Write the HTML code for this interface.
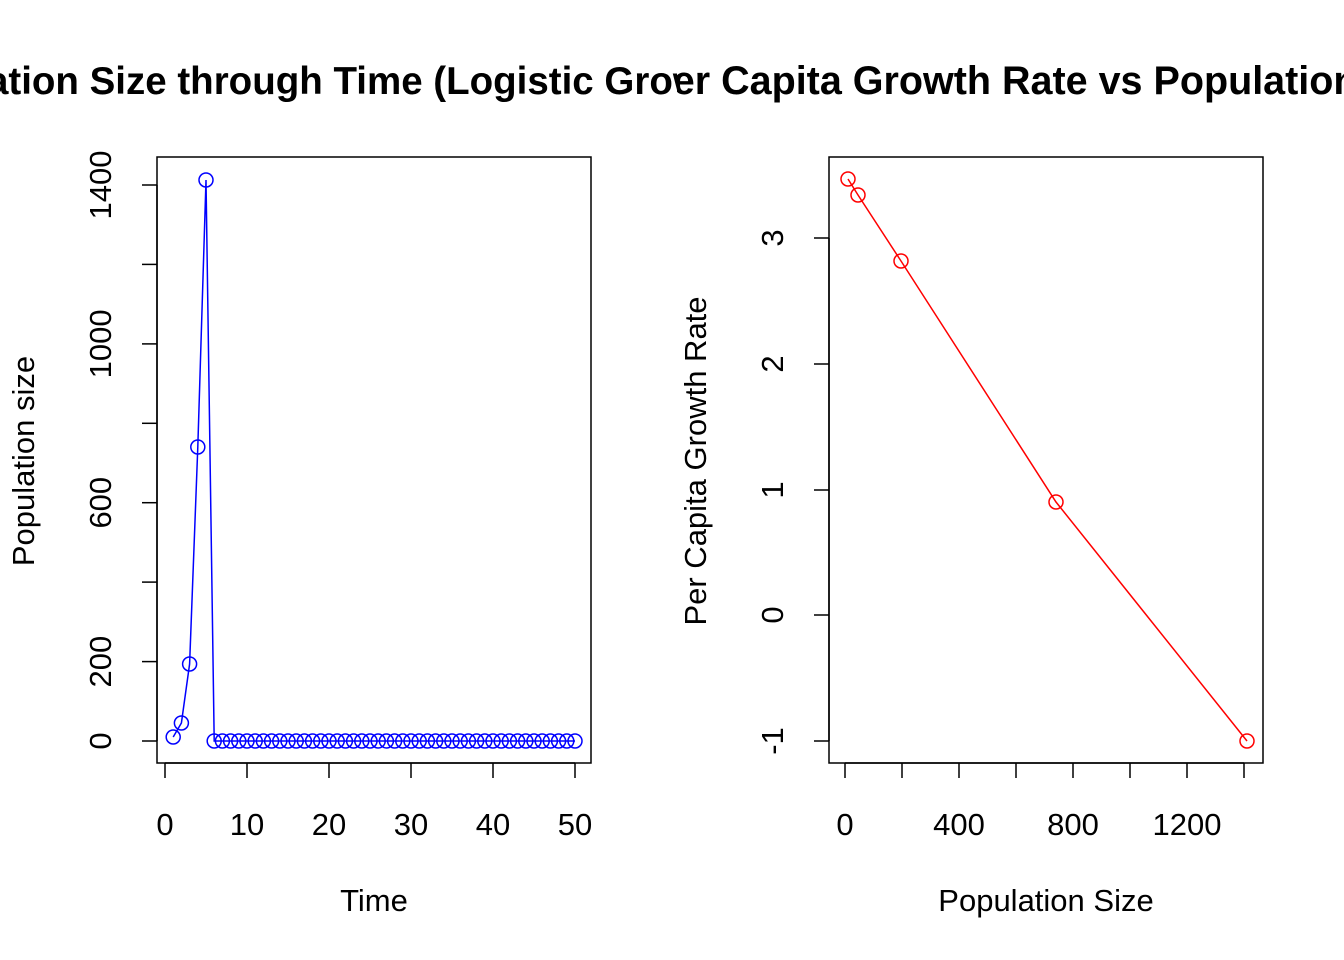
<!DOCTYPE html>
<html><head><meta charset="utf-8"><style>body{margin:0;background:#fff}svg{display:block}</style></head>
<body>
<svg width="1344" height="960" xmlns="http://www.w3.org/2000/svg" font-family="Liberation Sans, Arial, sans-serif">
<defs>
<clipPath id="cl"><rect x="0" y="0" width="677" height="960"/></clipPath>
<clipPath id="cr"><rect x="677" y="0" width="667" height="960"/></clipPath>
</defs>
<rect width="1344" height="960" fill="#fff"/>
<g font-weight="bold" text-anchor="middle">
<text x="316" y="94" font-size="38.5" clip-path="url(#cl)">Population Size through Time (Logistic Growth)</text>
<text x="1047" y="94" font-size="39.5" clip-path="url(#cr)">Per Capita Growth Rate vs Population Size</text>
</g>
<!-- Left plot -->
<rect x="157" y="157" width="434" height="606" fill="none" stroke="#000" stroke-width="1.5"/>
<g stroke="#000" stroke-width="1.5">
<line x1="165" y1="763" x2="575" y2="763"/>
<line x1="165" y1="763" x2="165" y2="778"/><line x1="247" y1="763" x2="247" y2="778"/>
<line x1="329" y1="763" x2="329" y2="778"/><line x1="411" y1="763" x2="411" y2="778"/>
<line x1="493" y1="763" x2="493" y2="778"/><line x1="575" y1="763" x2="575" y2="778"/>
<line x1="157" y1="185" x2="157" y2="741"/>
<line x1="142" y1="741" x2="157" y2="741"/><line x1="142" y1="661.6" x2="157" y2="661.6"/>
<line x1="142" y1="582.1" x2="157" y2="582.1"/><line x1="142" y1="502.7" x2="157" y2="502.7"/>
<line x1="142" y1="423.3" x2="157" y2="423.3"/><line x1="142" y1="343.9" x2="157" y2="343.9"/>
<line x1="142" y1="264.4" x2="157" y2="264.4"/><line x1="142" y1="185" x2="157" y2="185"/>
</g>
<g font-size="31" text-anchor="middle">
<text x="165" y="835">0</text><text x="247" y="835">10</text><text x="329" y="835">20</text>
<text x="411" y="835">30</text><text x="493" y="835">40</text><text x="575" y="835">50</text>
<text x="374" y="911">Time</text>
<text transform="translate(111,741) rotate(-90)">0</text>
<text transform="translate(111,661.6) rotate(-90)">200</text>
<text transform="translate(111,502.7) rotate(-90)">600</text>
<text transform="translate(111,343.9) rotate(-90)">1000</text>
<text transform="translate(111,185) rotate(-90)">1400</text>
<text transform="translate(34,461) rotate(-90)">Population size</text>
</g>
<g id="lp" fill="none" stroke="#00f" stroke-width="1.5"></g>
<!-- Right plot -->
<rect x="829" y="157" width="434" height="606" fill="none" stroke="#000" stroke-width="1.5"/>
<g stroke="#000" stroke-width="1.5">
<line x1="845" y1="763" x2="1244" y2="763"/>
<line x1="845" y1="763" x2="845" y2="778"/><line x1="902" y1="763" x2="902" y2="778"/>
<line x1="959" y1="763" x2="959" y2="778"/><line x1="1016" y1="763" x2="1016" y2="778"/>
<line x1="1073" y1="763" x2="1073" y2="778"/><line x1="1130" y1="763" x2="1130" y2="778"/>
<line x1="1187" y1="763" x2="1187" y2="778"/><line x1="1244" y1="763" x2="1244" y2="778"/>
<line x1="829" y1="238" x2="829" y2="741"/>
<line x1="814" y1="238" x2="829" y2="238"/><line x1="814" y1="364" x2="829" y2="364"/>
<line x1="814" y1="490" x2="829" y2="490"/><line x1="814" y1="615" x2="829" y2="615"/>
<line x1="814" y1="741" x2="829" y2="741"/>
</g>
<g font-size="31" text-anchor="middle">
<text x="845" y="835">0</text><text x="959" y="835">400</text><text x="1073" y="835">800</text><text x="1187" y="835">1200</text>
<text x="1046" y="911">Population Size</text>
<text transform="translate(783,238) rotate(-90)">3</text>
<text transform="translate(783,364) rotate(-90)">2</text>
<text transform="translate(783,490) rotate(-90)">1</text>
<text transform="translate(783,615) rotate(-90)">0</text>
<text transform="translate(783,741) rotate(-90)">-1</text>
<text transform="translate(706,461) rotate(-90)">Per Capita Growth Rate</text>
</g>
<g fill="none" stroke="#f00" stroke-width="1.5">
<polyline points="848,179 858,195 901,261 1056,502 1247,741"/>
<circle cx="848" cy="179" r="7"/><circle cx="858" cy="195" r="7"/><circle cx="901" cy="261" r="7"/>
<circle cx="1056" cy="502" r="7"/><circle cx="1247" cy="741" r="7"/>
</g>
<script>
(function(){
var g=document.getElementById('lp'),ns='http://www.w3.org/2000/svg';
var ys=[null,737,723,664,447,180];var pts=[];
for(var t=1;t<=50;t++){var x=165+8.2*t,y=t<=5?ys[t]:741;pts.push(x+','+y);
var c=document.createElementNS(ns,'circle');c.setAttribute('cx',x);c.setAttribute('cy',y);c.setAttribute('r',7);g.appendChild(c);}
var p=document.createElementNS(ns,'polyline');p.setAttribute('points',pts.join(' '));g.appendChild(p);
})();
</script>
</svg>
</body></html>
